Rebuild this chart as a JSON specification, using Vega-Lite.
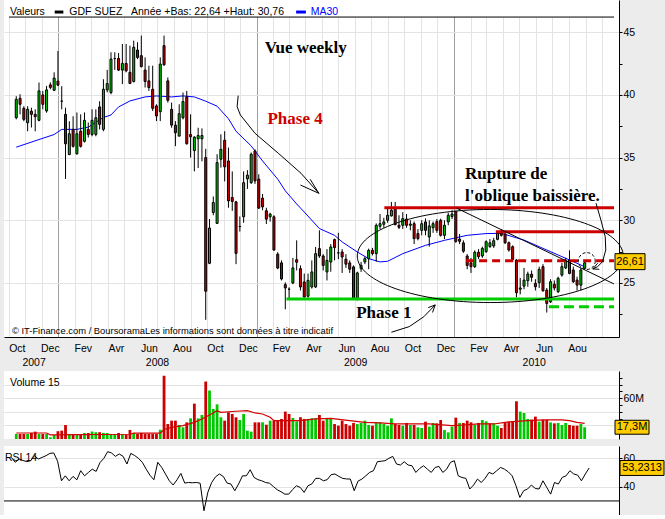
{
"$schema": "https://vega.github.io/schema/vega-lite/v6.json",
"background": "#ececec",
"padding": {"left": 3, "top": 0, "right": 0, "bottom": 0},
"spacing": 3,
"config": {
  "view": {"stroke": null, "fill": "white"},
  "font": "Liberation Sans",
  "axis": {"labelFont": "Liberation Sans", "labelFontSize": 10.5, "labelColor": "black", "title": null, "domainColor": "black", "tickColor": "black"}
},
"datasets": {
  "w": [
{"d":"2007-10-15","o":38.18,"h":39.9,"l":38.05,"c":39.65,"v":7.4,"r":60.7},
{"d":"2007-10-22","o":39.73,"h":40.05,"l":38.45,"c":39.25,"v":7.4,"r":57.2},
{"d":"2007-10-29","o":38.93,"h":39.1,"l":37.9,"c":38.05,"v":7.4,"r":59.5},
{"d":"2007-11-05","o":37.78,"h":39.1,"l":37.1,"c":38.85,"v":7.4,"r":58.5},
{"d":"2007-11-12","o":38.7,"h":38.98,"l":37.4,"c":38.45,"v":8.8,"r":57.7},
{"d":"2007-11-19","o":38.45,"h":38.85,"l":37.1,"c":38.26,"v":10.8,"r":58.3},
{"d":"2007-11-26","o":37.97,"h":40.99,"l":37.9,"c":40.32,"v":7.4,"r":61.9},
{"d":"2007-12-03","o":40.0,"h":40.32,"l":38.85,"c":39.25,"v":7.4,"r":59.5},
{"d":"2007-12-10","o":38.72,"h":40.72,"l":38.58,"c":40.4,"v":7.4,"r":60.7},
{"d":"2007-12-17","o":40.8,"h":41.0,"l":40.45,"c":40.6,"v":2.5,"r":61.9},
{"d":"2007-12-24","o":40.37,"h":41.8,"l":40.3,"c":41.34,"v":5.9,"r":63.5},
{"d":"2007-12-31","o":41.1,"h":43.5,"l":40.7,"c":40.78,"v":11.5,"r":63.8},
{"d":"2008-01-07","o":39.5,"h":40.7,"l":38.85,"c":39.5,"v":12.3,"r":58},
{"d":"2008-01-14","o":38.45,"h":38.98,"l":33.3,"c":36.1,"v":20.6,"r":44.2},
{"d":"2008-01-21","o":35.24,"h":37.9,"l":35.2,"c":36.9,"v":7.4,"r":47.7},
{"d":"2008-01-28","o":37.25,"h":38.3,"l":35.8,"c":35.9,"v":7.4,"r":44.2},
{"d":"2008-02-04","o":35.3,"h":38.6,"l":35.24,"c":36.9,"v":7.4,"r":47.3},
{"d":"2008-02-11","o":37.1,"h":38.45,"l":35.8,"c":35.9,"v":7.4,"r":44.9},
{"d":"2008-02-18","o":36.3,"h":38.6,"l":36.2,"c":37.97,"v":8.8,"r":51.3},
{"d":"2008-02-25","o":37.25,"h":37.8,"l":36.6,"c":36.85,"v":8.8,"r":47.7},
{"d":"2008-03-03","o":36.85,"h":38.85,"l":36.7,"c":37.97,"v":11,"r":50.1},
{"d":"2008-03-10","o":36.85,"h":38.85,"l":36.7,"c":38.18,"v":10,"r":52.4},
{"d":"2008-03-17","o":39.04,"h":39.5,"l":37.25,"c":37.65,"v":10,"r":50.8},
{"d":"2008-03-24","o":37.25,"h":41.25,"l":37.1,"c":40.45,"v":9,"r":57},
{"d":"2008-03-31","o":40.4,"h":42.0,"l":40.2,"c":40.9,"v":8.8,"r":60},
{"d":"2008-04-07","o":40.19,"h":43.4,"l":40.05,"c":42.86,"v":7.4,"r":64.7},
{"d":"2008-04-14","o":42.9,"h":43.4,"l":42.0,"c":42.9,"v":7.4,"r":63.8},
{"d":"2008-04-21","o":42.91,"h":43.34,"l":41.9,"c":41.98,"v":8.8,"r":61.4},
{"d":"2008-04-28","o":41.98,"h":44.06,"l":40.86,"c":42.51,"v":7.4,"r":63.1},
{"d":"2008-05-05","o":42.51,"h":44.06,"l":41.8,"c":41.92,"v":6.5,"r":61.4},
{"d":"2008-05-12","o":41.8,"h":43.93,"l":40.86,"c":40.91,"v":13.3,"r":56},
{"d":"2008-05-19","o":41.07,"h":44.33,"l":40.99,"c":43.8,"v":8.8,"r":63.5},
{"d":"2008-05-26","o":43.58,"h":44.2,"l":42.86,"c":42.99,"v":7.4,"r":62},
{"d":"2008-06-02","o":43.13,"h":44.73,"l":42.2,"c":42.25,"v":8.8,"r":60},
{"d":"2008-06-09","o":41.98,"h":42.99,"l":40.59,"c":41.07,"v":7.4,"r":57.2},
{"d":"2008-06-16","o":41.12,"h":42.33,"l":40.32,"c":40.59,"v":7.4,"r":52.4},
{"d":"2008-06-23","o":40.45,"h":42.33,"l":38.72,"c":38.93,"v":7.4,"r":48},
{"d":"2008-06-30","o":39.12,"h":39.25,"l":37.91,"c":38.32,"v":7.4,"r":44.9},
{"d":"2008-07-07","o":38.66,"h":42.99,"l":37.91,"c":42.46,"v":13.7,"r":57.2},
{"d":"2008-07-14","o":43.93,"h":44.73,"l":42.33,"c":42.4,"v":93,"r":53.7},
{"d":"2008-07-21","o":41.12,"h":41.39,"l":39.39,"c":39.57,"v":22,"r":49},
{"d":"2008-07-28","o":38.85,"h":39.39,"l":37.38,"c":37.59,"v":27,"r":44.2},
{"d":"2008-08-04","o":37.59,"h":37.91,"l":35.91,"c":36.98,"v":27,"r":41.2},
{"d":"2008-08-11","o":36.71,"h":39.25,"l":36.71,"c":38.5,"v":20.6,"r":44.9},
{"d":"2008-08-18","o":38.18,"h":40.19,"l":38.05,"c":39.47,"v":17.2,"r":49.4},
{"d":"2008-08-25","o":39.84,"h":40.32,"l":36.04,"c":36.1,"v":24.5,"r":42.6},
{"d":"2008-09-01","o":36.84,"h":38.45,"l":35.0,"c":36.66,"v":30.4,"r":43},
{"d":"2008-09-08","o":35.56,"h":36.71,"l":33.9,"c":36.63,"v":52,"r":42.8},
{"d":"2008-09-15","o":36.5,"h":37.38,"l":34.17,"c":36.76,"v":30.4,"r":43},
{"d":"2008-09-22","o":36.5,"h":37.33,"l":34.7,"c":36.76,"v":35.3,"r":42.5},
{"d":"2008-09-29","o":35.0,"h":35.7,"l":22.06,"c":24.34,"v":84.5,"r":23.1},
{"d":"2008-10-06","o":26.57,"h":30.1,"l":26.5,"c":29.38,"v":71.3,"r":36.1},
{"d":"2008-10-13","o":30.62,"h":31.9,"l":30.4,"c":31.42,"v":44.2,"r":43},
{"d":"2008-10-20","o":29.75,"h":35.27,"l":29.7,"c":34.6,"v":51,"r":47},
{"d":"2008-10-27","o":34.87,"h":36.86,"l":34.2,"c":35.66,"v":31.9,"r":49},
{"d":"2008-11-03","o":36.38,"h":37.1,"l":33.1,"c":34.26,"v":27,"r":47.3},
{"d":"2008-11-10","o":34.73,"h":35.8,"l":31.0,"c":31.55,"v":39.3,"r":42.6},
{"d":"2008-11-17","o":31.82,"h":33.9,"l":30.75,"c":31.5,"v":36.8,"r":41.9},
{"d":"2008-11-24","o":31.47,"h":31.55,"l":26.5,"c":27.36,"v":31.9,"r":37.2},
{"d":"2008-12-01","o":29.5,"h":30.3,"l":29.1,"c":29.5,"v":28,"r":42},
{"d":"2008-12-08","o":30.28,"h":33.9,"l":29.8,"c":33.0,"v":36.8,"r":47.7},
{"d":"2008-12-15","o":33.3,"h":34.0,"l":32.5,"c":33.6,"v":12.3,"r":47.7},
{"d":"2008-12-22","o":33.0,"h":35.4,"l":32.9,"c":35.27,"v":10.8,"r":52},
{"d":"2008-12-29","o":35.53,"h":35.66,"l":32.9,"c":33.14,"v":24.5,"r":46.6},
{"d":"2009-01-05","o":33.28,"h":33.67,"l":30.9,"c":30.97,"v":24.5,"r":45},
{"d":"2009-01-12","o":31.76,"h":32.1,"l":30.8,"c":31.07,"v":24.5,"r":44.2},
{"d":"2009-01-19","o":30.76,"h":31.0,"l":29.7,"c":30.09,"v":21,"r":43},
{"d":"2009-01-26","o":30.28,"h":30.6,"l":29.9,"c":30.49,"v":27,"r":42.5},
{"d":"2009-02-02","o":30.28,"h":30.4,"l":27.55,"c":27.63,"v":27,"r":40.2},
{"d":"2009-02-09","o":27.3,"h":27.45,"l":26.1,"c":26.19,"v":27,"r":37.9},
{"d":"2009-02-16","o":26.6,"h":26.8,"l":25.2,"c":25.32,"v":29.5,"r":36.5},
{"d":"2009-02-23","o":24.87,"h":25.05,"l":22.9,"c":24.6,"v":40.3,"r":34.8},
{"d":"2009-03-02","o":24.5,"h":24.65,"l":23.8,"c":24.5,"v":36.8,"r":34.8},
{"d":"2009-03-09","o":25.0,"h":27.0,"l":24.9,"c":26.2,"v":31,"r":38},
{"d":"2009-03-16","o":26.86,"h":28.4,"l":26.0,"c":26.65,"v":26,"r":40.7},
{"d":"2009-03-23","o":26.14,"h":26.4,"l":24.4,"c":24.68,"v":32,"r":39.5},
{"d":"2009-03-30","o":25.08,"h":25.75,"l":23.83,"c":23.88,"v":29.5,"r":36},
{"d":"2009-04-06","o":23.94,"h":25.75,"l":23.83,"c":25.21,"v":29.5,"r":40.7},
{"d":"2009-04-13","o":24.68,"h":26.8,"l":24.55,"c":25.88,"v":30.4,"r":42},
{"d":"2009-04-20","o":24.68,"h":27.87,"l":24.6,"c":27.34,"v":30.4,"r":45.9},
{"d":"2009-04-27","o":27.74,"h":29.2,"l":27.0,"c":27.15,"v":35.3,"r":45.9},
{"d":"2009-05-04","o":27.15,"h":27.3,"l":26.0,"c":26.4,"v":27,"r":44.2},
{"d":"2009-05-11","o":25.88,"h":27.7,"l":25.2,"c":26.8,"v":30.4,"r":45},
{"d":"2009-05-18","o":26.67,"h":28.1,"l":25.9,"c":27.87,"v":30.4,"r":48.5},
{"d":"2009-05-25","o":28.46,"h":28.54,"l":26.8,"c":27.82,"v":22,"r":49},
{"d":"2009-06-01","o":27.4,"h":29.0,"l":26.9,"c":27.4,"v":19.6,"r":47.3},
{"d":"2009-06-08","o":27.47,"h":27.7,"l":25.8,"c":27.07,"v":27,"r":45.9},
{"d":"2009-06-15","o":26.9,"h":27.3,"l":26.2,"c":26.5,"v":22,"r":45.5},
{"d":"2009-06-22","o":26.6,"h":26.8,"l":25.8,"c":26.1,"v":19.6,"r":45.4},
{"d":"2009-06-29","o":26.28,"h":26.4,"l":23.67,"c":23.75,"v":23.6,"r":37.2},
{"d":"2009-07-06","o":23.75,"h":25.9,"l":23.6,"c":25.8,"v":22,"r":44},
{"d":"2009-07-13","o":26.14,"h":26.68,"l":25.88,"c":26.41,"v":23.6,"r":45.4},
{"d":"2009-07-20","o":26.68,"h":27.1,"l":26.5,"c":26.94,"v":27,"r":47.7},
{"d":"2009-07-27","o":26.94,"h":27.74,"l":26.1,"c":27.6,"v":20.6,"r":50.1},
{"d":"2009-08-03","o":27.6,"h":27.8,"l":27.2,"c":27.35,"v":19.6,"r":51.3},
{"d":"2009-08-10","o":27.34,"h":29.75,"l":26.7,"c":29.6,"v":24.5,"r":57.6},
{"d":"2009-08-17","o":29.52,"h":30.5,"l":29.3,"c":29.73,"v":24.5,"r":58},
{"d":"2009-08-24","o":29.68,"h":30.2,"l":29.4,"c":29.87,"v":22,"r":58.3},
{"d":"2009-08-31","o":30.0,"h":30.9,"l":29.8,"c":30.4,"v":19.6,"r":60},
{"d":"2009-09-07","o":30.35,"h":31.46,"l":30.3,"c":30.8,"v":30.4,"r":61.4},
{"d":"2009-09-14","o":30.93,"h":31.46,"l":29.6,"c":29.65,"v":22,"r":56},
{"d":"2009-09-21","o":29.6,"h":30.4,"l":29.3,"c":29.44,"v":20.6,"r":55.3},
{"d":"2009-09-28","o":29.6,"h":30.65,"l":29.3,"c":30.13,"v":19.6,"r":57.6},
{"d":"2009-10-05","o":30.1,"h":30.5,"l":29.4,"c":29.6,"v":23.6,"r":55.3},
{"d":"2009-10-12","o":29.6,"h":30.0,"l":29.2,"c":29.7,"v":20.6,"r":54.8},
{"d":"2009-10-19","o":29.73,"h":29.9,"l":28.1,"c":28.54,"v":20.6,"r":50.1},
{"d":"2009-10-26","o":28.94,"h":29.3,"l":28.4,"c":28.54,"v":17.2,"r":52.9},
{"d":"2009-11-02","o":29.2,"h":30.0,"l":28.8,"c":29.73,"v":16.2,"r":54.8},
{"d":"2009-11-09","o":29.87,"h":30.15,"l":28.8,"c":29.2,"v":25.5,"r":52.4},
{"d":"2009-11-16","o":28.67,"h":30.0,"l":27.9,"c":29.55,"v":18.2,"r":50.1},
{"d":"2009-11-23","o":29.4,"h":29.9,"l":29.0,"c":29.73,"v":23.6,"r":53.6},
{"d":"2009-11-30","o":29.9,"h":30.1,"l":29.0,"c":29.2,"v":23,"r":54.3},
{"d":"2009-12-07","o":30.0,"h":30.13,"l":28.7,"c":28.8,"v":28,"r":50.1},
{"d":"2009-12-14","o":28.8,"h":30.0,"l":28.5,"c":29.6,"v":13.3,"r":52.4},
{"d":"2009-12-21","o":29.87,"h":30.6,"l":29.6,"c":30.4,"v":9.8,"r":57.2},
{"d":"2009-12-28","o":30.3,"h":30.8,"l":30.1,"c":30.5,"v":18.2,"r":58.3},
{"d":"2010-01-04","o":30.7,"h":30.76,"l":28.2,"c":28.32,"v":31.4,"r":47.7},
{"d":"2010-01-11","o":28.5,"h":28.9,"l":28.1,"c":28.32,"v":23.6,"r":46.5},
{"d":"2010-01-18","o":28.2,"h":28.4,"l":27.4,"c":27.53,"v":23.6,"r":45.9},
{"d":"2010-01-25","o":27.15,"h":27.3,"l":26.1,"c":26.4,"v":27,"r":38.4},
{"d":"2010-02-01","o":26.6,"h":27.0,"l":25.8,"c":26.3,"v":24.5,"r":41.2},
{"d":"2010-02-08","o":26.3,"h":27.6,"l":26.2,"c":27.45,"v":21,"r":45.4},
{"d":"2010-02-15","o":27.45,"h":27.7,"l":26.9,"c":27.1,"v":23.6,"r":43},
{"d":"2010-02-22","o":27.15,"h":27.9,"l":27.0,"c":27.76,"v":28,"r":46},
{"d":"2010-03-01","o":27.5,"h":28.4,"l":27.4,"c":28.29,"v":26,"r":50.1},
{"d":"2010-03-08","o":27.9,"h":28.5,"l":27.8,"c":28.2,"v":23,"r":49},
{"d":"2010-03-15","o":27.95,"h":28.6,"l":27.8,"c":28.37,"v":23,"r":51.3},
{"d":"2010-03-22","o":28.48,"h":29.1,"l":28.4,"c":28.96,"v":19.6,"r":53.6},
{"d":"2010-03-29","o":29.0,"h":29.3,"l":28.7,"c":28.8,"v":16.2,"r":52.4},
{"d":"2010-04-05","o":28.9,"h":29.1,"l":28.1,"c":28.21,"v":23.6,"r":50.5},
{"d":"2010-04-12","o":28.21,"h":28.3,"l":27.5,"c":27.63,"v":25.5,"r":47.7},
{"d":"2010-04-19","o":27.89,"h":28.0,"l":26.7,"c":26.88,"v":26,"r":40.7},
{"d":"2010-04-26","o":26.83,"h":26.9,"l":23.85,"c":24.22,"v":55.5,"r":32.5},
{"d":"2010-05-03","o":24.5,"h":25.4,"l":24.1,"c":24.6,"v":40.3,"r":37.2},
{"d":"2010-05-10","o":24.75,"h":26.2,"l":24.5,"c":25.23,"v":38.3,"r":38.4},
{"d":"2010-05-17","o":25.18,"h":25.9,"l":24.7,"c":25.71,"v":29.5,"r":41.2},
{"d":"2010-05-24","o":25.7,"h":26.0,"l":25.1,"c":25.45,"v":28.5,"r":38.8},
{"d":"2010-05-31","o":24.97,"h":25.3,"l":24.4,"c":24.7,"v":32.9,"r":38.4},
{"d":"2010-06-07","o":25.02,"h":26.3,"l":24.6,"c":26.08,"v":25.5,"r":44.2},
{"d":"2010-06-14","o":26.3,"h":26.5,"l":24.3,"c":24.38,"v":28,"r":39.5},
{"d":"2010-06-21","o":24.43,"h":24.6,"l":22.64,"c":23.37,"v":28,"r":34.8},
{"d":"2010-06-28","o":23.5,"h":25.3,"l":23.4,"c":25.1,"v":24.5,"r":43},
{"d":"2010-07-05","o":24.9,"h":25.2,"l":24.4,"c":24.6,"v":23,"r":41.9},
{"d":"2010-07-12","o":24.3,"h":25.5,"l":24.2,"c":25.37,"v":23.6,"r":46.6},
{"d":"2010-07-19","o":25.63,"h":26.6,"l":25.5,"c":26.3,"v":20.6,"r":47.7},
{"d":"2010-07-26","o":26.2,"h":27.0,"l":26.1,"c":26.8,"v":23.6,"r":51.3},
{"d":"2010-08-02","o":26.83,"h":27.6,"l":25.7,"c":25.76,"v":20.6,"r":49},
{"d":"2010-08-09","o":26.03,"h":26.3,"l":25.0,"c":25.1,"v":19.6,"r":48.2},
{"d":"2010-08-16","o":25.23,"h":25.5,"l":24.4,"c":24.83,"v":19.6,"r":44.2},
{"d":"2010-08-23","o":24.83,"h":26.2,"l":24.4,"c":26.03,"v":22,"r":49},
{"d":"2010-08-30","o":26.17,"h":26.8,"l":26.1,"c":26.61,"v":17.3,"r":53.23}
  ],
  "ma": [
{"d":"2007-10-15","m":35.83},{"d":"2007-11-26","m":36.44},{"d":"2007-12-24","m":36.84},{"d":"2008-01-07","m":37.25},
{"d":"2008-02-04","m":37.25},{"d":"2008-02-25","m":37.43},{"d":"2008-03-24","m":38.2},{"d":"2008-04-07","m":38.4},
{"d":"2008-04-21","m":39.04},{"d":"2008-05-12","m":39.52},{"d":"2008-06-09","m":39.84},{"d":"2008-06-30","m":39.92},
{"d":"2008-07-28","m":39.84},{"d":"2008-08-18","m":39.92},{"d":"2008-09-08","m":39.84},{"d":"2008-09-29","m":39.5},
{"d":"2008-10-20","m":39.1},{"d":"2008-11-10","m":38.1},{"d":"2008-11-24","m":37.1},{"d":"2008-12-22","m":35.93},
{"d":"2009-01-12","m":34.73},{"d":"2009-02-09","m":33.28},{"d":"2009-02-23","m":32.35},{"d":"2009-03-16","m":31.3},
{"d":"2009-03-30","m":30.66},{"d":"2009-04-27","m":29.34},{"d":"2009-05-25","m":28.8},{"d":"2009-06-08","m":28.27},
{"d":"2009-07-06","m":27.47},{"d":"2009-07-27","m":26.94},{"d":"2009-08-17","m":26.68},{"d":"2009-08-31","m":26.73},
{"d":"2009-09-28","m":27.34},{"d":"2009-11-09","m":28.0},{"d":"2009-12-14","m":28.4},{"d":"2010-01-04","m":28.6},
{"d":"2010-01-25","m":28.8},{"d":"2010-03-01","m":28.94},{"d":"2010-03-29","m":28.96},{"d":"2010-05-10","m":28.42},
{"d":"2010-06-14","m":27.76},{"d":"2010-07-19","m":27.1},{"d":"2010-08-09","m":26.7},{"d":"2010-08-30","m":26.3}
  ],
  "vma": [
{"d":"2007-10-15","m":8.8},{"d":"2007-12-10","m":8.8},{"d":"2007-12-17","m":6.2},{"d":"2008-05-12","m":7.0},
{"d":"2008-05-19","m":8.5},{"d":"2008-07-07","m":8.5},{"d":"2008-07-14","m":14},{"d":"2008-07-28","m":17.2},
{"d":"2008-08-18","m":19.6},{"d":"2008-09-08","m":24.5},{"d":"2008-09-22","m":29.5},{"d":"2008-10-06","m":35.3},
{"d":"2008-10-20","m":41.7},{"d":"2008-10-27","m":39.3},{"d":"2008-11-24","m":40.8},{"d":"2008-12-15","m":41.7},
{"d":"2008-12-29","m":38.3},{"d":"2009-01-12","m":36.8},{"d":"2009-01-26","m":31.9},{"d":"2009-02-02","m":27},
{"d":"2009-03-23","m":27},{"d":"2009-04-20","m":29.5},{"d":"2009-05-18","m":30.4},{"d":"2009-06-22","m":27},
{"d":"2009-07-20","m":24.5},{"d":"2009-08-17","m":23.6},{"d":"2009-09-14","m":22.1},{"d":"2009-11-16","m":22.1},
{"d":"2009-12-28","m":19.6},{"d":"2010-01-18","m":20.6},{"d":"2010-02-15","m":22.1},{"d":"2010-03-15","m":22.1},
{"d":"2010-04-05","m":24.5},{"d":"2010-04-19","m":25.5},{"d":"2010-05-17","m":27},{"d":"2010-06-14","m":28},
{"d":"2010-07-19","m":28},{"d":"2010-08-02","m":27},{"d":"2010-08-16","m":24.5},{"d":"2010-08-30","m":23}
  ]
},
"vconcat": [
{
 "width": 615, "height": 337,
 "resolve": {"axis": {"x": "independent", "y": "independent"}},
 "layer": [
  {"data": {"name": "ma"}, "mark": {"type": "line", "color": "#0000ff", "strokeWidth": 1},
   "encoding": {
    "x": {"field": "d", "type": "temporal",
      "scale": {"type": "utc", "domain": [{"year": 2007, "month": 10, "date": 1, "hours": 14, "utc": true}, {"year": 2010, "month": 10, "date": 23, "hours": 5, "utc": true}]},
      "axis": {"orient": "bottom", "tickCount": {"interval": "month", "step": 1}, "grid": true,
        "gridColor": {"condition": {"test": "utcmonth(datum.value) === 0", "value": "#a0a0a0"}, "value": "#e3e3e3"},
        "labels": false, "ticks": false, "domain": true, "domainColor": "black", "title": null}},
    "y": {"field": "m", "type": "quantitative", "scale": {"domain": [20.69, 47.57], "zero": false, "nice": false},
      "axis": {"orient": "right", "values": [25, 30, 35, 40, 45], "grid": true, "gridColor": "#e3e3e3",
        "labels": false, "ticks": false, "domain": false, "title": null}}
   }},
  {"data": {"name": "w"}, "mark": {"type": "rule", "color": "black", "strokeWidth": 1},
   "encoding": {
    "x": {"field": "d", "type": "temporal", "scale": {"type": "utc"},
      "axis": {"orient": "bottom", "values": [
        {"year":2007,"month":10,"date":16,"utc":true},{"year":2007,"month":12,"date":16,"utc":true},
        {"year":2008,"month":2,"date":15,"utc":true},{"year":2008,"month":4,"date":16,"utc":true},
        {"year":2008,"month":6,"date":16,"utc":true},{"year":2008,"month":8,"date":16,"utc":true},
        {"year":2008,"month":10,"date":16,"utc":true},{"year":2008,"month":12,"date":16,"utc":true},
        {"year":2009,"month":2,"date":15,"utc":true},{"year":2009,"month":4,"date":16,"utc":true},
        {"year":2009,"month":6,"date":16,"utc":true},{"year":2009,"month":8,"date":16,"utc":true},
        {"year":2009,"month":10,"date":16,"utc":true},{"year":2009,"month":12,"date":16,"utc":true},
        {"year":2010,"month":2,"date":15,"utc":true},{"year":2010,"month":4,"date":16,"utc":true},
        {"year":2010,"month":6,"date":16,"utc":true},{"year":2010,"month":8,"date":16,"utc":true}],
        "labelExpr": "['Jan','Fev','Mar','Avr','Mai','Jun','Jul','Aou','Sep','Oct','Nov','Dec'][utcmonth(datum.value)]",
        "grid": false, "ticks": false, "domain": false, "labelPadding": 6, "labelFlush": false, "labelOverlap": false, "title": null}},
    "y": {"field": "l", "type": "quantitative",
      "axis": {"orient": "right", "values": [22.5, 25, 27.5, 30, 32.5, 35, 37.5, 40, 42.5, 45],
        "labelExpr": "datum.value % 5 === 0 ? datum.label : ''", "grid": false,
        "ticks": true, "tickSize": 3, "labelPadding": 1, "domain": true, "domainColor": "black", "title": null}},
    "y2": {"field": "h"}
   }},
  {"data": {"name": "w"}, "mark": {"type": "bar", "size": 2, "stroke": "black", "strokeWidth": 1},
   "encoding": {
    "x": {"field": "d", "type": "temporal", "scale": {"type": "utc"},
      "axis": {"orient": "bottom", "values": [
        {"year":2007,"month":11,"date":16,"utc":true},{"year":2008,"month":7,"date":1,"utc":true},
        {"year":2009,"month":7,"date":2,"utc":true},{"year":2010,"month":5,"date":28,"utc":true}],
        "labelExpr": "'' + utcyear(datum.value)", "grid": false, "ticks": false, "domain": false,
        "labelPadding": 6, "offset": 14, "labelFlush": false, "labelOverlap": false, "title": null}},
    "y": {"field": "o", "type": "quantitative", "axis": null},
    "y2": {"field": "c"},
    "fill": {"condition": {"test": "datum.c >= datum.o", "value": "#00c800"}, "value": "#cc0000"}
   }},
  {"data": {"values": [{"a": "2009-08-25", "b": "2010-10-23T05:00:00Z", "y": 31.0}], "format": {"parse": {"a": "date", "b": "date"}}},
   "mark": {"type": "rule", "color": "#cc0000", "strokeWidth": 3},
   "encoding": {"x": {"field": "a", "type": "temporal", "scale": {"type": "utc"}, "axis": null}, "x2": {"field": "b"}, "y": {"field": "y", "type": "quantitative", "axis": null}}},
  {"data": {"values": [{"a": "2010-03-19", "b": "2010-10-23T05:00:00Z", "y": 29.09}], "format": {"parse": {"a": "date", "b": "date"}}},
   "mark": {"type": "rule", "color": "#cc0000", "strokeWidth": 3},
   "encoding": {"x": {"field": "a", "type": "temporal", "scale": {"type": "utc"}, "axis": null}, "x2": {"field": "b"}, "y": {"field": "y", "type": "quantitative", "axis": null}}},
  {"data": {"values": [{"a": "2010-01-23", "b": "2010-10-23T05:00:00Z", "y": 26.78}], "format": {"parse": {"a": "date", "b": "date"}}},
   "mark": {"type": "rule", "color": "#cc0000", "strokeWidth": 3, "strokeDash": [8, 5]},
   "encoding": {"x": {"field": "a", "type": "temporal", "scale": {"type": "utc"}, "axis": null}, "x2": {"field": "b"}, "y": {"field": "y", "type": "quantitative", "axis": null}}},
  {"data": {"values": [{"a": "2009-02-25", "b": "2010-10-23T05:00:00Z", "y": 23.72}], "format": {"parse": {"a": "date", "b": "date"}}},
   "mark": {"type": "rule", "color": "#00cc00", "strokeWidth": 3},
   "encoding": {"x": {"field": "a", "type": "temporal", "scale": {"type": "utc"}, "axis": null}, "x2": {"field": "b"}, "y": {"field": "y", "type": "quantitative", "axis": null}}},
  {"data": {"values": [{"a": "2010-06-25", "b": "2010-10-23T05:00:00Z", "y": 23.1}], "format": {"parse": {"a": "date", "b": "date"}}},
   "mark": {"type": "rule", "color": "#00cc00", "strokeWidth": 3, "strokeDash": [10, 5]},
   "encoding": {"x": {"field": "a", "type": "temporal", "scale": {"type": "utc"}, "axis": null}, "x2": {"field": "b"}, "y": {"field": "y", "type": "quantitative", "axis": null}}},
  {"data": {"values": [{"a": "2010-01-05", "b": "2010-10-23T05:00:00Z", "y": 30.98, "y2": 24.92}], "format": {"parse": {"a": "date", "b": "date"}}},
   "mark": {"type": "rule", "color": "black", "strokeWidth": 1},
   "encoding": {"x": {"field": "a", "type": "temporal", "scale": {"type": "utc"}, "axis": null}, "x2": {"field": "b"}, "y": {"field": "y", "type": "quantitative", "axis": null}, "y2": {"field": "y2"}}},
  {"data": {"values": [{"d": "2010-03-08T16:00:00Z", "v": 27.15}]},
   "mark": {"type": "point", "shape": "M-1,0A1,0.35 0 1,0 1,0A1,0.35 0 1,0 -1,0Z", "size": 70756, "filled": false, "stroke": "black", "strokeWidth": 1, "opacity": 1},
   "encoding": {"x": {"field": "d", "type": "temporal", "scale": {"type": "utc"}, "axis": null}, "y": {"field": "v", "type": "quantitative", "axis": null}}},
  {"data": {"values": [{"d": "2010-09-03", "v": 26.75}]},
   "mark": {"type": "point", "shape": "circle", "size": 284, "filled": false, "stroke": "black", "strokeWidth": 1, "strokeDash": [3, 2], "opacity": 1},
   "encoding": {"x": {"field": "d", "type": "temporal", "scale": {"type": "utc"}, "axis": null}, "y": {"field": "v", "type": "quantitative", "axis": null}}},
  {"data": {"values": [
     {"g": "p4", "n": 0, "d": "2008-11-28", "v": 39.94}, {"g": "p4", "n": 1, "d": "2008-11-26", "v": 39.06},
     {"g": "p4", "n": 2, "d": "2008-12-02", "v": 38.4}, {"g": "p4", "n": 3, "d": "2008-12-29", "v": 36.94},
     {"g": "p4", "n": 4, "d": "2009-02-10", "v": 35.35}, {"g": "p4", "n": 5, "d": "2009-03-24", "v": 33.75},
     {"g": "p4", "n": 6, "d": "2009-04-26", "v": 32.15},
     {"g": "p4h", "n": 0, "d": "2009-03-23", "v": 32.81}, {"g": "p4h", "n": 1, "d": "2009-04-26", "v": 32.15}, {"g": "p4h", "n": 2, "d": "2009-04-10", "v": 33.27},
     {"g": "p1", "n": 0, "d": "2009-09-07", "v": 21.07}, {"g": "p1", "n": 1, "d": "2009-10-10", "v": 21.52},
     {"g": "p1", "n": 2, "d": "2009-11-06", "v": 22.31}, {"g": "p1", "n": 3, "d": "2009-11-18", "v": 22.85},
     {"g": "p1", "n": 4, "d": "2009-11-27", "v": 23.25},
     {"g": "p1h", "n": 0, "d": "2009-11-14", "v": 23.03}, {"g": "p1h", "n": 1, "d": "2009-11-27", "v": 23.25}, {"g": "p1h", "n": 2, "d": "2009-11-22", "v": 22.65},
     {"g": "ru", "n": 0, "d": "2010-09-20", "v": 31.36}, {"g": "ru", "n": 1, "d": "2010-09-29", "v": 30.02},
     {"g": "ru", "n": 2, "d": "2010-10-07", "v": 28.69}, {"g": "ru", "n": 3, "d": "2010-10-08", "v": 27.63},
     {"g": "ru", "n": 4, "d": "2010-10-02", "v": 26.7}, {"g": "ru", "n": 5, "d": "2010-09-23", "v": 26.3},
     {"g": "ru", "n": 6, "d": "2010-09-14", "v": 26.12},
     {"g": "ruh", "n": 0, "d": "2010-09-23", "v": 26.57}, {"g": "ruh", "n": 1, "d": "2010-09-14", "v": 26.12}, {"g": "ruh", "n": 2, "d": "2010-09-26", "v": 26.09}
   ]},
   "mark": {"type": "line", "color": "black", "strokeWidth": 1},
   "encoding": {"x": {"field": "d", "type": "temporal", "scale": {"type": "utc"}, "axis": null}, "y": {"field": "v", "type": "quantitative", "axis": null},
     "detail": {"field": "g"}, "order": {"field": "n"}}},
  {"data": {"values": [
     {"t": "Vue weekly", "d": "2009-01-16", "v": 43.32},
     {"t": "Rupture de", "d": "2010-01-21", "v": 33.27},
     {"t": "l'oblique baissière.", "d": "2010-01-21", "v": 31.56},
     {"t": "Phase 1", "d": "2009-07-04", "v": 22.18}
   ]},
   "mark": {"type": "text", "font": "Liberation Serif", "fontSize": 17, "fontWeight": "bold", "align": "left", "baseline": "alphabetic", "color": "black"},
   "encoding": {"x": {"field": "d", "type": "temporal", "scale": {"type": "utc"}, "axis": null}, "y": {"field": "v", "type": "quantitative", "axis": null}, "text": {"field": "t"}}},
  {"data": {"values": [{"t": "Phase 4", "d": "2009-01-21", "v": 37.66}]},
   "mark": {"type": "text", "font": "Liberation Serif", "fontSize": 17, "fontWeight": "bold", "align": "left", "baseline": "alphabetic", "color": "#cc0000"},
   "encoding": {"x": {"field": "d", "type": "temporal", "scale": {"type": "utc"}, "axis": null}, "y": {"field": "v", "type": "quantitative", "axis": null}, "text": {"field": "t"}}},
  {"data": {"values": [{"t": "© IT-Finance.com / BoursoramaLes informations sont données à titre indicatif", "d": "2007-10-07", "v": 20.91}]},
   "mark": {"type": "text", "fontSize": 9.4, "align": "left", "baseline": "alphabetic", "color": "black"},
   "encoding": {"x": {"field": "d", "type": "temporal", "scale": {"type": "utc"}, "axis": null}, "y": {"field": "v", "type": "quantitative", "axis": null}, "text": {"field": "t"}}},
  {"data": {"values": [{"a": "2007-10-01T14:00:00Z", "b": "2010-10-22", "y1": 46.21, "y2": 47.57}], "format": {"parse": {"a": "date", "b": "date"}}},
   "mark": {"type": "rect", "fill": "white"},
   "encoding": {"x": {"field": "a", "type": "temporal", "scale": {"type": "utc"}, "axis": null}, "x2": {"field": "b"}, "y": {"field": "y1", "type": "quantitative", "axis": null}, "y2": {"field": "y2"}}},
  {"data": {"values": [{"a": "2007-10-01T14:00:00Z", "b": "2010-10-23T05:00:00Z", "y": 46.21}], "format": {"parse": {"a": "date", "b": "date"}}},
   "mark": {"type": "rule", "color": "black", "strokeWidth": 1},
   "encoding": {"x": {"field": "a", "type": "temporal", "scale": {"type": "utc"}, "axis": null}, "x2": {"field": "b"}, "y": {"field": "y", "type": "quantitative", "axis": null}}},
  {"data": {"values": [{"a": "2007-12-25", "b": "2008-01-10", "y": 46.61}], "format": {"parse": {"a": "date", "b": "date"}}},
   "mark": {"type": "rule", "color": "black", "strokeWidth": 3},
   "encoding": {"x": {"field": "a", "type": "temporal", "scale": {"type": "utc"}, "axis": null}, "x2": {"field": "b"}, "y": {"field": "y", "type": "quantitative", "axis": null}}},
  {"data": {"values": [{"a": "2009-03-15", "b": "2009-04-02", "y": 46.61}], "format": {"parse": {"a": "date", "b": "date"}}},
   "mark": {"type": "rule", "color": "#0000ff", "strokeWidth": 3},
   "encoding": {"x": {"field": "a", "type": "temporal", "scale": {"type": "utc"}, "axis": null}, "x2": {"field": "b"}, "y": {"field": "y", "type": "quantitative", "axis": null}}},
  {"data": {"values": [
     {"t": "Valeurs", "d": "2007-10-03T10:00:00Z", "v": 46.37},
     {"t": "GDF SUEZ", "d": "2008-01-21", "v": 46.37},
     {"t": "Année +Bas: 22,64 +Haut: 30,76", "d": "2008-05-14", "v": 46.37}
   ]},
   "mark": {"type": "text", "fontSize": 10.5, "align": "left", "baseline": "alphabetic", "color": "black"},
   "encoding": {"x": {"field": "d", "type": "temporal", "scale": {"type": "utc"}, "axis": null}, "y": {"field": "v", "type": "quantitative", "axis": null}, "text": {"field": "t"}}},
  {"data": {"values": [{"t": "MA30", "d": "2009-04-11", "v": 46.37}]},
   "mark": {"type": "text", "fontSize": 10.5, "align": "left", "baseline": "alphabetic", "color": "#0000ff"},
   "encoding": {"x": {"field": "d", "type": "temporal", "scale": {"type": "utc"}, "axis": null}, "y": {"field": "v", "type": "quantitative", "axis": null}, "text": {"field": "t"}}},
  {"data": {"values": [{"d": "2010-10-23T05:00:00Z", "v": 26.7, "t": "26,61"}]},
   "mark": {"type": "point", "shape": "M-1,-0.533H1V0.533H-1Z", "size": 900, "filled": true, "fill": "#ffcc00", "stroke": "black", "strokeWidth": 1, "opacity": 1, "xOffset": 16},
   "encoding": {"x": {"field": "d", "type": "temporal", "scale": {"type": "utc"}, "axis": null}, "y": {"field": "v", "type": "quantitative", "axis": null}}},
  {"data": {"values": [{"d": "2010-10-23T05:00:00Z", "v": 26.7, "t": "26,61"}]},
   "mark": {"type": "text", "fontSize": 11, "align": "center", "baseline": "middle", "dx": 16, "color": "black"},
   "encoding": {"x": {"field": "d", "type": "temporal", "scale": {"type": "utc"}, "axis": null}, "y": {"field": "v", "type": "quantitative", "axis": null}, "text": {"field": "t"}}}
 ]
},
{
 "spacing": 7,
 "vconcat": [
 {
 "width": 615, "height": 68,
 "resolve": {"axis": {"y": "independent"}},
 "layer": [
  {"data": {"name": "w"},
   "transform": [{"window": [{"op": "lag", "field": "c", "as": "pc"}], "sort": [{"field": "d", "order": "ascending"}]}],
   "mark": {"type": "bar", "size": 2.8},
   "encoding": {
    "x": {"field": "d", "type": "temporal",
      "scale": {"type": "utc", "domain": [{"year": 2007, "month": 10, "date": 1, "hours": 14, "utc": true}, {"year": 2010, "month": 10, "date": 23, "hours": 5, "utc": true}]},
      "axis": {"orient": "bottom", "tickCount": {"interval": "month", "step": 1}, "grid": true,
        "gridColor": {"condition": {"test": "utcmonth(datum.value) === 0", "value": "#a0a0a0"}, "value": "#e3e3e3"},
        "labels": false, "ticks": false, "domain": true, "domainColor": "black", "title": null}},
    "y": {"field": "v", "type": "quantitative", "scale": {"domain": [0, 100], "nice": false},
      "axis": {"orient": "right", "values": [20, 40, 60, 80], "grid": true, "gridColor": "#e3e3e3",
        "labels": false, "ticks": false, "domain": false, "title": null}},
    "fill": {"condition": {"test": "datum.pc == null || datum.c >= datum.pc", "value": "#00c800"}, "value": "#cc0000"}
   }},
  {"data": {"name": "vma"}, "mark": {"type": "line", "color": "#d00000", "strokeWidth": 1.2},
   "encoding": {"x": {"field": "d", "type": "temporal", "scale": {"type": "utc"}, "axis": null},
     "y": {"field": "m", "type": "quantitative",
       "axis": {"orient": "right", "values": [10, 20, 30, 40, 50, 60, 70, 80, 90],
        "labelExpr": "datum.value === 60 ? '60M' : ''", "grid": false,
        "ticks": true, "tickSize": 3, "labelPadding": 1, "domain": true, "domainColor": "black", "title": null}}}},
  {"data": {"values": [{"t": "Volume 15", "d": "2007-10-03T10:00:00Z", "v": 78.5}]},
   "mark": {"type": "text", "fontSize": 10.5, "align": "left", "baseline": "alphabetic", "color": "black"},
   "encoding": {"x": {"field": "d", "type": "temporal", "scale": {"type": "utc"}, "axis": null}, "y": {"field": "v", "type": "quantitative", "axis": null}, "text": {"field": "t"}}},
  {"data": {"values": [{"d": "2010-10-23T05:00:00Z", "v": 17.3, "t": "17,3M"}]},
   "mark": {"type": "point", "shape": "M-1,-0.41H1V0.41H-1Z", "size": 1156, "filled": true, "fill": "#ffcc00", "stroke": "black", "strokeWidth": 1, "opacity": 1, "xOffset": 18},
   "encoding": {"x": {"field": "d", "type": "temporal", "scale": {"type": "utc"}, "axis": null}, "y": {"field": "v", "type": "quantitative", "axis": null}}},
  {"data": {"values": [{"d": "2010-10-23T05:00:00Z", "v": 17.3, "t": "17,3M"}]},
   "mark": {"type": "text", "fontSize": 11, "align": "center", "baseline": "middle", "dx": 18, "color": "black"},
   "encoding": {"x": {"field": "d", "type": "temporal", "scale": {"type": "utc"}, "axis": null}, "y": {"field": "v", "type": "quantitative", "axis": null}, "text": {"field": "t"}}}
 ]
 },
 {
 "width": 615, "height": 69,
 "resolve": {"axis": {"y": "independent"}},
 "layer": [
  {"data": {"name": "w"}, "mark": {"type": "line", "color": "black", "strokeWidth": 1},
   "encoding": {
    "x": {"field": "d", "type": "temporal",
      "scale": {"type": "utc", "domain": [{"year": 2007, "month": 10, "date": 1, "hours": 14, "utc": true}, {"year": 2010, "month": 10, "date": 23, "hours": 5, "utc": true}]},
      "axis": {"orient": "bottom", "tickCount": {"interval": "month", "step": 1}, "grid": true,
        "gridColor": {"condition": {"test": "utcmonth(datum.value) === 0", "value": "#a0a0a0"}, "value": "#e3e3e3"},
        "labels": false, "ticks": false, "domain": true, "domainColor": "black", "title": null}},
    "y": {"field": "r", "type": "quantitative", "scale": {"domain": [20.1, 68.7], "zero": false, "nice": false},
      "axis": {"orient": "right", "values": [40, 60], "grid": true, "gridColor": "#e3e3e3",
        "labels": false, "ticks": false, "domain": false, "title": null}}
   }},
  {"data": {"values": [{"a": "2007-10-01T14:00:00Z", "b": "2010-10-23T05:00:00Z", "y": 30}], "format": {"parse": {"a": "date", "b": "date"}}},
   "mark": {"type": "rule", "color": "black", "strokeWidth": 1},
   "encoding": {"x": {"field": "a", "type": "temporal", "scale": {"type": "utc"}, "axis": null}, "x2": {"field": "b"},
     "y": {"field": "y", "type": "quantitative",
       "axis": {"orient": "right", "values": [40, 50, 60],
        "labelExpr": "datum.value === 50 ? '' : datum.label", "grid": false,
        "ticks": true, "tickSize": 3, "labelPadding": 1, "domain": true, "domainColor": "black", "title": null}}}},
  {"data": {"values": [{"t": "RSI 14", "d": "2007-10-03T10:00:00Z", "r": 58.3}]},
   "mark": {"type": "text", "fontSize": 10.5, "align": "left", "baseline": "alphabetic", "color": "black"},
   "encoding": {"x": {"field": "d", "type": "temporal", "scale": {"type": "utc"}, "axis": null}, "y": {"field": "r", "type": "quantitative", "axis": null}, "text": {"field": "t"}}},
  {"data": {"values": [{"d": "2010-10-23T05:00:00Z", "r": 53.23, "t": "53,2313"}]},
   "mark": {"type": "point", "shape": "M-1,-0.34H1V0.34H-1Z", "size": 1936, "filled": true, "fill": "#ffcc00", "stroke": "black", "strokeWidth": 1, "opacity": 1, "xOffset": 23},
   "encoding": {"x": {"field": "d", "type": "temporal", "scale": {"type": "utc"}, "axis": null}, "y": {"field": "r", "type": "quantitative", "axis": null}}},
  {"data": {"values": [{"d": "2010-10-23T05:00:00Z", "r": 53.23, "t": "53,2313"}]},
   "mark": {"type": "text", "fontSize": 11, "align": "center", "baseline": "middle", "dx": 23, "color": "black"},
   "encoding": {"x": {"field": "d", "type": "temporal", "scale": {"type": "utc"}, "axis": null}, "y": {"field": "r", "type": "quantitative", "axis": null}, "text": {"field": "t"}}}
 ]
 }
 ]
}
]
}
